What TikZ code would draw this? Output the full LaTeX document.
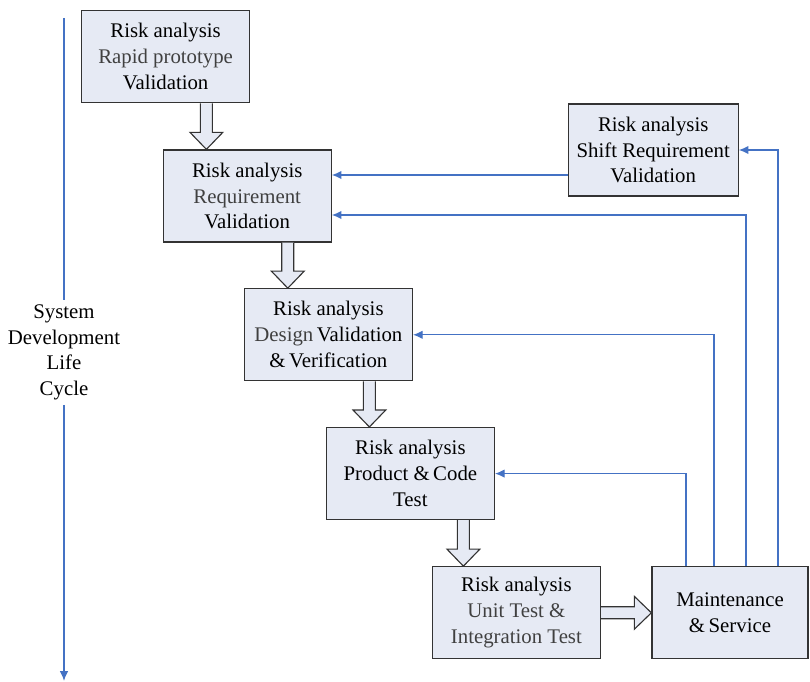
\documentclass[tikz,border=0pt]{standalone}
\usepackage{fontspec}
\setmainfont{Liberation Serif}
\usetikzlibrary{arrows.meta,calc}
\definecolor{boxfill}{RGB}{230,234,244}
\definecolor{linkblue}{RGB}{68,114,196}
\definecolor{softgray}{RGB}{64,64,64}
\tikzset{
	stage/.style = {draw = black!80, line width = 0.9pt, fill = boxfill, minimum width = 4.2cm, minimum height = 2.3cm, align = center, inner sep = 2pt, font = \fontsize{14.8}{18.4}\selectfont},
	feedback/.style = {draw = linkblue, line width = 0.8pt, -{Latex[length=2.4mm,width=2.1mm]}},
	hollow/.style = {draw = black!80, line width = 0.8pt, fill = boxfill}
}
% open block arrow from the bottom of #1 down to the top of #2
\newcommand{\hollowdown}[2]{%
	\coordinate (mid) at ($(#1.south east)!0.5!(#2.north west)$);
	\draw [hollow] ($(mid |- #1.south)+(-0.15,0)$) -- ($(mid |- #2.north)+(-0.15,0.425)$) -- ($(mid |- #2.north)+(-0.41,0.425)$) -- (mid |- #2.north) -- ($(mid |- #2.north)+(0.41,0.425)$) -- ($(mid |- #2.north)+(0.15,0.425)$) -- ($(mid |- #1.south)+(0.15,0)$);
}
\begin{document}
\begin{tikzpicture}
	\useasboundingbox (0,0) rectangle (20.25,17.05);
	\node [stage] (rapid) at (4.14,15.63) {Risk analysis\\\textcolor{softgray}{Rapid prototype}\\Validation};
	\node [stage] (req) at (6.18,12.15) {Risk analysis\\\textcolor{softgray}{Requirement}\\Validation};
	\node [stage, minimum width = 4.25cm] (shift) at (16.33,13.3) {Risk analysis\\Shift Requirement\\Validation};
	\node [stage] (design) at (8.21,8.68) {Risk analysis\\\textcolor{softgray}{Design}\,Validation\\\&\,Verification};
	\node [stage] (code) at (10.26,5.21) {Risk analysis\\Product \&\,Code\\Test};
	\node [stage] (unit) at (12.91,1.73) {Risk analysis\\\textcolor{softgray}{Unit Test \&}\\\textcolor{softgray}{Integration Test}};
	\node [stage, minimum width = 3.9cm] (maint) at (18.25,1.73) {Maintenance\\\&\,Service};
	\hollowdown{rapid}{req}
	\hollowdown{req}{design}
	\hollowdown{design}{code}
	\hollowdown{code}{unit}
	\draw [hollow] ($(unit.east)+(0,0.15)$) -- ($(maint.west)+(-0.425,0.15)$) -- ($(maint.west)+(-0.425,0.41)$) -- (maint.west) -- ($(maint.west)+(-0.425,-0.41)$) -- ($(maint.west)+(-0.425,-0.15)$) -- ($(unit.east)+(0,-0.15)$);
	\coordinate (shiftout) at ([yshift=-0.625cm]shift.west);
	\draw [feedback] (shiftout) -- (shiftout -| req.east);
	\draw [feedback] ([xshift=1.2cm]maint.north) |- (shift.east);
	\draw [feedback] ([xshift=0.4cm]maint.north) |- ([yshift=-0.475cm]req.east);
	\draw [feedback] ([xshift=-0.4cm]maint.north) |- (design.east);
	\draw [feedback] ([xshift=-1.1cm]maint.north) |- (code.east);
	\coordinate (axtop) at (1.6,16.6);
	\coordinate (axbot) at (1.6,0.03);
	\node [align = center, inner sep = 3pt, font = \fontsize{14.8}{18.4}\selectfont] (sdlc) at (1.6,8.24) {System\\Development\\Life\\Cycle};
	\draw [feedback, -] (axtop) -- (sdlc.north);
	\draw [feedback] (sdlc.south) -- (axbot);
\end{tikzpicture}
\end{document}
